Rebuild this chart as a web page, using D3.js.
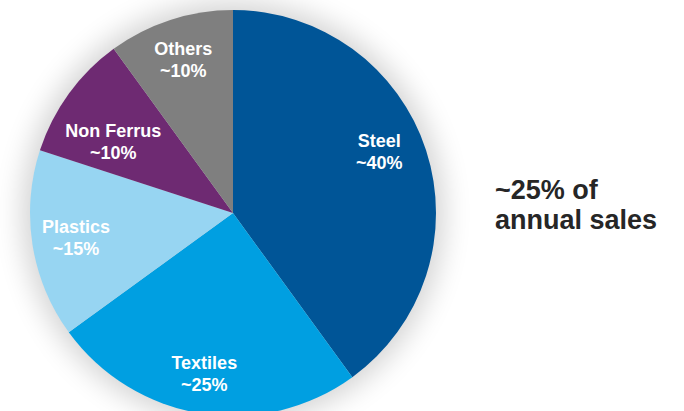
<!DOCTYPE html>
<html>
<head>
<meta charset="utf-8">
<script src="https://cdn.jsdelivr.net/npm/d3@7"></script>
<style>
  html, body { margin: 0; padding: 0; background: #fff; }
  svg { display: block; font-family: "Liberation Sans", Arial, sans-serif; }
</style>
</head>
<body>
<svg id="chart"></svg>
<script>
// Dati della torta
const categories = ["Steel", "Textiles", "Plastics", "Non Ferrus", "Others"];
const shares     = [40, 25, 15, 10, 10];
const shareLabels = ["~40%", "~25%", "~15%", "~10%", "~10%"];
const colors = ["#005597", "#009FE1", "#97D5F2", "#6E2A72", "#7F7F7F"];
const sideText = ["~25% of", "annual sales"];

const width = 684, height = 411;
const cx = 233, cy = 213, radius = 203;

const svg = d3.select('#chart')
  .attr('width', width)
  .attr('height', height);

// Ombra morbida attorno alla torta
const defs = svg.append('defs');
defs.append('filter')
  .attr('id', 'soft')
  .attr('x', '-40%').attr('y', '-40%')
  .attr('width', '180%').attr('height', '180%')
  .append('feGaussianBlur')
  .attr('stdDeviation', 14);

const g = svg.append('g').attr('transform', `translate(${cx},${cy})`);

g.append('circle')
  .attr('r', radius + 8)
  .attr('fill', '#000')
  .attr('opacity', 0.17)
  .attr('filter', 'url(#soft)');

const pie = d3.pie().sort(null).value(d => d.value);
const data = categories.map((c, i) => ({ name: c, value: shares[i], label: shareLabels[i], color: colors[i] }));
const arcs = pie(data);

const arc = d3.arc().innerRadius(0).outerRadius(radius);

g.selectAll('path.slice')
  .data(arcs)
  .enter()
  .append('path')
  .attr('class', 'slice')
  .attr('d', arc)
  .attr('fill', d => d.data.color);

// Etichette: centroide su raggio fisso + piccoli aggiustamenti (come nella slide)
const labelArc = d3.arc().innerRadius(158).outerRadius(158);
const nudge = {
  "Steel":      [-4, -17],
  "Textiles":   [-4, 0],
  "Plastics":   [-1, -5],
  "Non Ferrus": [8, 17],
  "Others":     [-1, -8]
};

const labels = g.selectAll('text.lbl')
  .data(arcs)
  .enter()
  .append('text')
  .attr('class', 'lbl')
  .attr('transform', d => {
    const [x, y] = labelArc.centroid(d);
    const [dx, dy] = nudge[d.data.name];
    return `translate(${x + dx},${y + dy})`;
  })
  .attr('text-anchor', 'middle')
  .attr('fill', '#fff')
  .attr('font-weight', 'bold')
  .attr('font-size', '18px');

labels.append('tspan').attr('x', 0).attr('dy', 0).text(d => d.data.name);
labels.append('tspan').attr('x', 0).attr('dy', 22).text(d => d.data.label);

// Testo a destra
svg.append('text')
  .attr('x', 495)
  .attr('y', 199)
  .attr('fill', '#262626')
  .attr('font-weight', 'bold')
  .attr('font-size', '27px')
  .selectAll('tspan')
  .data(sideText)
  .enter()
  .append('tspan')
  .attr('x', 495)
  .attr('dy', (d, i) => i === 0 ? 0 : 30)
  .text(d => d);
</script>
</body>
</html>
